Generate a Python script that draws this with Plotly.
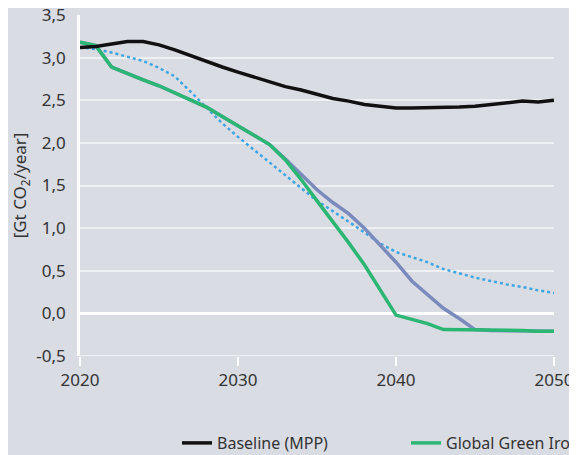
import plotly.graph_objects as go

years = list(range(2020, 2051))

baseline = [3.12, 3.13, 3.16, 3.19, 3.19, 3.15, 3.09, 3.02, 2.96, 2.89,
            2.83, 2.77, 2.71, 2.66, 2.62, 2.57, 2.52, 2.49, 2.45, 2.43,
            2.41, 2.41, 2.41, 2.41, 2.42, 2.43, 2.45, 2.46, 2.49, 2.48, 2.50]

green_iron = [3.18, 3.14, 2.89, 2.81, 2.74, 2.67, 2.59, 2.51, 2.42, 2.31,
              2.20, 2.10, 1.98, 1.80, 1.57, 1.32, 1.08, 0.83, 0.57, 0.27,
              -0.02, -0.07, -0.12, -0.19, -0.19, -0.20, -0.20, -0.20, -0.20, -0.21, -0.21]

purple = [3.18, 3.14, 2.89, 2.81, 2.74, 2.67, 2.59, 2.51, 2.42, 2.31,
          2.20, 2.10, 1.98, 1.81, 1.63, 1.45, 1.30, 1.17, 1.00, 0.80,
          0.60, 0.38, 0.22, 0.06, -0.06, -0.19, -0.20, -0.20, -0.21, -0.21, -0.21]

dotted = [3.12, 3.10, 3.06, 3.01, 2.96, 2.88, 2.78, 2.60, 2.42, 2.23,
          2.07, 1.92, 1.77, 1.62, 1.47, 1.32, 1.20, 1.08, 0.95, 0.82,
          0.72, 0.66, 0.60, 0.52, 0.47, 0.42, 0.38, 0.34, 0.31, 0.27, 0.24]

y_ticks = [-0.5, 0.0, 0.5, 1.0, 1.5, 2.0, 2.5, 3.0, 3.5]
y_tick_labels = ["-0,5", "0,0", "0,5", "1,0", "1,5", "2,0", "2,5", "3,0", "3,5"]
x_ticks = [2020, 2030, 2040, 2050]

BG = "#d9dce3"
TXT = "#333333"
FONT = "Noto Sans"
W, H = 577, 455

fig = go.Figure()
fig.add_trace(go.Scatter(x=years, y=dotted, mode="lines", name="Dotted",
                         line=dict(color="#3ea6e2", width=2.5, dash="dot"),
                         showlegend=False))
fig.add_trace(go.Scatter(x=years, y=purple, mode="lines", name="Purple",
                         line=dict(color="#7b8abd", width=3.5),
                         showlegend=False))
fig.add_trace(go.Scatter(x=years, y=green_iron, mode="lines", name="Global Green Iron Trade",
                         line=dict(color="#2bb673", width=3.5), legend="legend2"))
fig.add_trace(go.Scatter(x=years, y=baseline, mode="lines", name="Baseline (MPP)",
                         line=dict(color="#111111", width=3.5), legend="legend"))

leg_common = dict(orientation="h", xref="container", yref="container",
                  xanchor="left", yanchor="middle", bgcolor="rgba(0,0,0,0)",
                  font=dict(size=16, color=TXT, family=FONT))

fig.update_layout(
    width=W, height=H,
    paper_bgcolor=BG, plot_bgcolor=BG,
    margin=dict(l=72, r=31, t=7, b=107, autoexpand=False),
    font=dict(family=FONT, size=17, color=TXT),
    legend=dict(x=169 / W, y=1 - 435 / H, **leg_common),
    legend2=dict(x=398 / W, y=1 - 435 / H, **leg_common),
)
fig.update_xaxes(range=[2020, 2050], tickvals=x_ticks, showgrid=False,
                 showline=False, zeroline=False,
                 ticks="outside", ticklen=9, tickwidth=2, tickcolor="white",
                 ticklabeloverflow="allow",
                 tickfont=dict(size=17, color=TXT))
fig.update_yaxes(range=[-0.5, 3.5], tickvals=y_ticks, ticktext=y_tick_labels,
                 showgrid=True, gridcolor="#eef0f3", gridwidth=1.5,
                 zeroline=True, zerolinecolor="white", zerolinewidth=2.5,
                 showline=True, linecolor="white", linewidth=2.5,
                 ticks="outside", ticklen=8, tickcolor=BG,
                 ticklabeloverflow="allow",
                 title=dict(text="[Gt CO<sub>2</sub>/year]", standoff=10,
                            font=dict(size=17, color=TXT)),
                 tickfont=dict(size=17, color=TXT))
fig.add_shape(type="line", xref="paper", yref="y", x0=0, x1=1, y0=-0.5, y1=-0.5,
              line=dict(color="#eef0f3", width=2), layer="below")

fig.write_html("out.html")
